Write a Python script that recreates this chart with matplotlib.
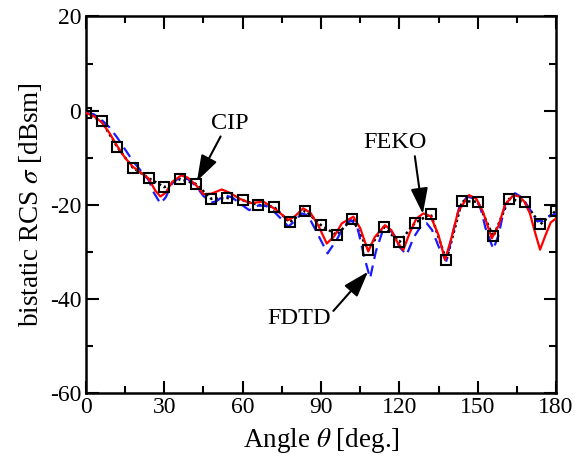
import numpy as np
import matplotlib
matplotlib.use("Agg")
import matplotlib.pyplot as plt
from matplotlib.ticker import MultipleLocator

plt.rcParams['font.family'] = ['Liberation Serif', 'DejaVu Serif']
plt.rcParams['mathtext.fontset'] = 'stix'
plt.rcParams['axes.unicode_minus'] = False

# FEKO reference (markers every 6 deg)
feko_angle = list(range(0, 181, 6))
feko_rcs = [-0.5, -2.3, -7.8, -12.2, -14.4, -16.3, -14.6, -15.6, -18.8, -18.6,
            -19.1, -20.1, -20.5, -23.8, -21.3, -24.4, -26.5, -23.0, -29.6, -24.8,
            -28.0, -23.9, -22.0, -31.9, -19.3, -19.4, -26.8, -18.8, -19.5, -24.2,
            -21.3]

# CIP (red solid)
cip_angle = [0, 3, 6, 9, 12, 15, 18, 21, 24, 26.5, 28.5, 30.5, 33, 36.5, 39, 42, 45,
             48, 52, 55, 59, 62.8, 68, 73, 77.5, 80, 83.2, 86, 89, 92.2, 95, 98,
             102.4, 105, 108.1, 110.5, 114.5, 117, 119, 121.5, 124, 126.5, 129.2,
             132, 135, 137.5, 140, 142.5, 146.7, 149.5, 152, 155.4, 158, 160.5,
             163.7, 166, 168, 170, 172, 173.9, 176, 178, 180]
cip_rcs = [-0.5, -1.2, -2.5, -4.8, -7.6, -10.1, -12.0, -13.2, -14.5, -17.0, -18.3,
           -17.5, -15.2, -13.8, -14.3, -15.8, -17.8, -17.7, -16.8, -17.5, -18.8,
           -19.7, -19.4, -21.2, -23.3, -22.5, -20.8, -21.8, -24.5, -28.3, -26.8,
           -24.0, -22.6, -25.0, -30.0, -27.0, -24.4, -25.5, -27.8, -29.7, -26.0,
           -23.0, -21.9, -22.5, -26.5, -31.8, -27.0, -21.5, -18.0, -18.8, -21.5,
           -27.2, -24.5, -20.0, -18.0, -18.3, -19.5, -21.9, -26.0, -29.6, -26.5,
           -23.8, -23.0]

# FDTD (blue dashed)
fdtd_angle = [0, 3, 6, 9, 12, 15, 18, 21, 24, 26, 28.5, 30.5, 33, 36, 39, 42, 45,
              48, 50, 53, 56, 59, 62.5, 66, 69, 72, 75, 77.5, 80, 82.6, 85, 88,
              92.5, 96, 99, 101.5, 104, 106.5, 108.8, 111, 113.5, 115.8, 118, 120,
              122.8, 125.5, 128.5, 130.5, 132.5, 135.6, 138, 140.5, 143, 146, 149,
              151, 153, 156, 158, 160.5, 164.3, 167, 170, 172.5, 175, 177, 180]
fdtd_rcs = [-0.5, -0.8, -2.0, -3.6, -5.8, -8.3, -10.8, -12.8, -14.8, -17.5, -19.8,
            -18.5, -15.5, -14.2, -14.6, -16.0, -18.2, -19.6, -19.3, -18.0, -18.5,
            -19.8, -21.2, -20.2, -20.3, -21.5, -23.2, -24.7, -23.5, -21.9, -22.3,
            -25.5, -30.4, -27.5, -24.5, -23.3, -25.0, -31.0, -35.7, -30.0, -25.8,
            -25.0, -26.5, -29.0, -30.7, -27.0, -24.4, -24.0, -25.4, -29.7, -32.0,
            -26.0, -20.5, -18.3, -18.8, -20.5, -25.0, -29.5, -26.5, -20.0, -17.6,
            -18.5, -21.0, -23.5, -23.5, -22.5, -22.0]

fig = plt.figure(figsize=(5.83, 4.57), dpi=100)
ax = fig.add_axes([0.1475, 0.1411, 0.9537 - 0.1475, 0.9639 - 0.1411])

ax.plot(feko_angle, feko_rcs, color='black', linestyle=(0, (1, 1.2)), linewidth=1.8, zorder=2)
ax.plot(fdtd_angle, fdtd_rcs, color='#1a1aff', linestyle=(0, (5, 3)), linewidth=1.6, zorder=3)
ax.plot(cip_angle, cip_rcs, color='#ff0000', linestyle='-', linewidth=1.6, zorder=4)
ax.plot(feko_angle, feko_rcs, linestyle='none', marker='s', markersize=7.8,
        markerfacecolor='none', markeredgecolor='black', markeredgewidth=1.5, zorder=5)

ax.set_xlim(0, 180)
ax.set_ylim(-60, 20)
ax.xaxis.set_major_locator(MultipleLocator(30))
ax.xaxis.set_minor_locator(MultipleLocator(15))
ax.yaxis.set_major_locator(MultipleLocator(20))
ax.yaxis.set_minor_locator(MultipleLocator(10))
ax.tick_params(which='both', direction='in', top=True, right=True, width=1.5,
               labelsize=17)
ax.tick_params(which='major', length=9)
ax.tick_params(which='minor', length=5)
ax.tick_params(axis='x', pad=3)
for s in ax.spines.values():
    s.set_linewidth(1.8)

ax.set_xlabel(r'Angle $\theta$ [deg.]', fontsize=19.5, labelpad=6)
ax.set_ylabel(r'bistatic RCS $\sigma$ [dBsm]', fontsize=19.5, labelpad=4)

arrowprops = dict(arrowstyle='-|>,head_length=0.9,head_width=0.3', color='black', lw=1.5,
                  shrinkA=0, shrinkB=0)
ax.annotate('CIP', xy=(42.5, -15.0), xytext=(55.0, -2.7), fontsize=17.5,
            ha='center', va='center', arrowprops=dict(arrowprops, relpos=(0.3, 0)))
ax.annotate('FEKO', xy=(129, -22.0), xytext=(118.5, -6.9), fontsize=17.5,
            ha='center', va='center', arrowprops=dict(arrowprops, relpos=(0.8, 0)))
ax.annotate('FDTD', xy=(108, -34.3), xytext=(81.5, -44.2), fontsize=17.5,
            ha='center', va='center', arrowprops=dict(arrowprops, relpos=(1.0, 0.7)))

fig.savefig('out.png', dpi=100)
